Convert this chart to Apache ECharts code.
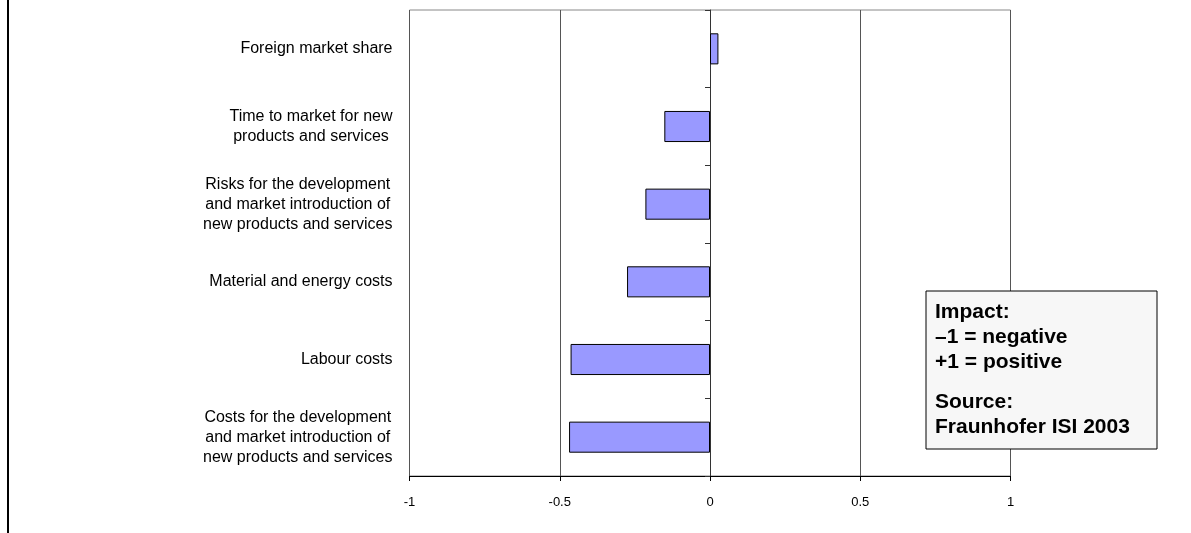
<!DOCTYPE html>
<html>
<head>
<meta charset="utf-8">
<script src="https://cdn.jsdelivr.net/npm/echarts@6/dist/echarts.min.js"></script>
<style>
html,body{margin:0;padding:0;background:#fff;}
#chart{width:1191px;height:533px;}
</style>
</head>
<body>
<div id="chart"></div>
<script>
var categories = [
  "Foreign market share",
  "Time to market for new\nproducts and services",
  "Risks for the development\nand market introduction of\nnew products and services",
  "Material and energy costs",
  "Labour costs",
  "Costs for the development\nand market introduction of\nnew products and services"
];
var impactValues = [0.028, -0.152, -0.215, -0.276, -0.464, -0.469];
var xTicks = { min: -1, max: 1, interval: 0.5 };
var noteLines1 = ["Impact:", "\u20131 = negative", "+1 = positive"];
var noteLines2 = ["Source:", "Fraunhofer ISI 2003"];

var FONT = "'Liberation Sans', Arial, sans-serif";
var chart = echarts.init(document.getElementById('chart'));

var graphics = [
  { type: 'line', shape: { x1: 8, y1: 0, x2: 8, y2: 533 },
    style: { stroke: '#000', lineWidth: 2 } },
  { type: 'rect', shape: { x: 926, y: 291, width: 231, height: 158 },
    style: { fill: '#f7f7f7', stroke: '#000', lineWidth: 1 }, z: 10 }
];
noteLines1.forEach(function (t, i) {
  graphics.push({ type: 'text', x: 935, y: 312 + i * 25, z: 11,
    style: { text: t, font: 'bold 21px ' + FONT, fill: '#000', textVerticalAlign: 'middle', verticalAlign: 'middle' } });
});
noteLines2.forEach(function (t, i) {
  graphics.push({ type: 'text', x: 935, y: 402 + i * 25, z: 11,
    style: { text: t, font: 'bold 21px ' + FONT, fill: '#000', textVerticalAlign: 'middle', verticalAlign: 'middle' } });
});

chart.setOption({
  animation: false,
  backgroundColor: '#fff',
  grid: { left: 409.5, right: 180.5, top: 10, bottom: 57, show: true,
          borderColor: '#888', borderWidth: 1, backgroundColor: 'transparent' },
  xAxis: {
    type: 'value', min: xTicks.min, max: xTicks.max, interval: xTicks.interval,
    axisLine: { show: true, onZero: false, lineStyle: { color: '#000', width: 1 } },
    axisTick: { show: true, length: 5, lineStyle: { color: '#000' } },
    axisLabel: { margin: 20, color: '#000', fontSize: 13, fontFamily: FONT },
    splitLine: { show: true, lineStyle: { color: '#555', width: 1 } }
  },
  yAxis: [
    {
      type: 'category', data: categories, inverse: true, position: 'left',
      axisLine: { show: false, onZero: false },
      axisTick: { show: false },
      axisLabel: {
        margin: 17, color: '#000', fontSize: 16, fontFamily: FONT, lineHeight: 20,
        formatter: function (v) { return '{c|' + v.split('\n').join('}\n{c|') + '}'; },
        rich: { c: { align: 'center', fontSize: 16, fontFamily: FONT, lineHeight: 20, color: '#000' } }
      },
      splitLine: { show: false }
    },
    {
      type: 'category', data: categories, inverse: true, position: 'left',
      axisLine: { show: true, onZero: true, lineStyle: { color: '#333', width: 1 } },
      axisTick: { show: true, length: 5, lineStyle: { color: '#333' } },
      axisLabel: { show: false },
      splitLine: { show: false }
    }
  ],
  series: [{
    type: 'bar', data: impactValues, yAxisIndex: 0, barWidth: '40%',
    itemStyle: { color: '#9999ff', borderColor: '#000', borderWidth: 1 },
    silent: true
  }],
  graphic: graphics
});
</script>
</body>
</html>
